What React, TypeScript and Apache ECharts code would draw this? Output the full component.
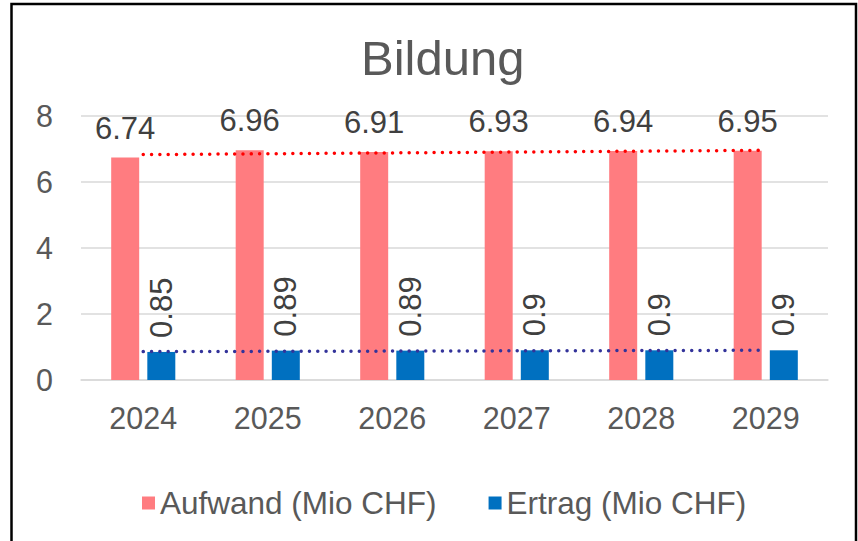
import React, { useEffect, useRef } from "react";
import * as echarts from "echarts";

const categories = ["2024", "2025", "2026", "2027", "2028", "2029"];
const aufwand = [6.74, 6.96, 6.91, 6.93, 6.94, 6.95];
const ertrag = [0.85, 0.89, 0.89, 0.9, 0.9, 0.9];
// linear trendline end points (first and last category)
const trendAufwand = [6.83, null, null, null, null, 6.96];
const trendErtrag = [0.86, null, null, null, null, 0.9];
const yTicks = { min: 0, max: 8, interval: 2 };

const FONT = "'Liberation Sans', Arial, sans-serif";

export default function App() {
  const ref = useRef<HTMLDivElement>(null);
  useEffect(() => {
    if (!ref.current) return;
    const chart = echarts.init(ref.current, null, { renderer: "svg" });
    chart.setOption({
      animation: false,
      backgroundColor: "#ffffff",
      textStyle: { fontFamily: FONT },
      title: {
        text: "Bildung",
        left: 356,
        top: 28,
        textStyle: { fontSize: 49, fontWeight: "normal", color: "#595959", fontFamily: FONT },
      },
      grid: { left: 81, right: 30, top: 116, bottom: 161, containLabel: false },
      legend: {
        data: ["Aufwand (Mio CHF)", "Ertrag (Mio CHF)"],
        left: 137,
        top: 482,
        icon: "rect",
        itemWidth: 13,
        itemHeight: 13,
        itemGap: 52,
        textStyle: { fontSize: 31.5, color: "#595959", fontFamily: FONT },
      },
      xAxis: {
        type: "category",
        data: categories,
        axisLine: { lineStyle: { color: "#D9D9D9", width: 1.5 } },
        axisTick: { show: false },
        axisLabel: { fontSize: 30.5, color: "#595959", margin: 22, fontFamily: FONT },
      },
      yAxis: {
        type: "value",
        min: yTicks.min,
        max: yTicks.max,
        interval: yTicks.interval,
        axisLine: { show: false },
        axisTick: { show: false },
        axisLabel: { fontSize: 30.5, color: "#595959", margin: 28, fontFamily: FONT },
        splitLine: { lineStyle: { color: "#D9D9D9", width: 1.5 } },
      },
      series: [
        {
          name: "Aufwand (Mio CHF)",
          type: "bar",
          data: aufwand,
          barWidth: 28,
          barGap: "29%",
          itemStyle: { color: "#FF7C80" },
          label: {
            show: true,
            position: "top",
            distance: 14,
            fontSize: 31,
            color: "#404040",
            fontFamily: FONT,
          },
        },
        {
          name: "Ertrag (Mio CHF)",
          type: "bar",
          data: ertrag,
          barWidth: 28,
          itemStyle: { color: "#0070C0" },
          label: {
            show: true,
            position: "top",
            rotate: 90,
            align: "left",
            verticalAlign: "middle",
            distance: 14,
            fontSize: 31,
            color: "#404040",
            fontFamily: FONT,
          },
        },
        {
          name: "trendAufwand",
          type: "line",
          data: trendAufwand,
          connectNulls: true,
          symbol: "none",
          silent: true,
          z: 5,
          lineStyle: { color: "#FF0000", width: 3.5, type: [0.01, 8.3], cap: "round" },
        },
        {
          name: "trendErtrag",
          type: "line",
          data: trendErtrag,
          connectNulls: true,
          symbol: "none",
          silent: true,
          z: 5,
          lineStyle: { color: "#33339A", width: 3.5, type: [0.01, 8.3], cap: "round" },
        },
      ],
      graphic: [
        {
          type: "rect",
          shape: { x: 11.5, y: 4, width: 844.5, height: 560 },
          style: { fill: "none", stroke: "#000000", lineWidth: 2.5 },
          z: 100,
        },
      ],
    });
    return () => chart.dispose();
  }, []);
  return (
    <div
      ref={ref}
      style={{ position: "fixed", left: 0, top: 0, width: 858, height: 541 }}
    />
  );
}
